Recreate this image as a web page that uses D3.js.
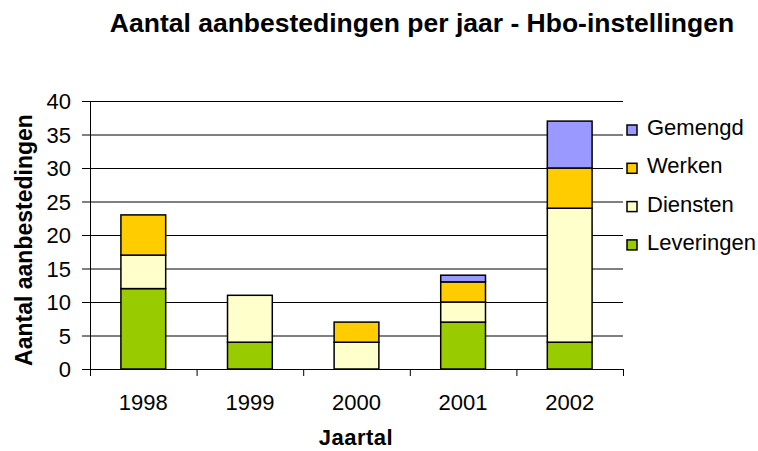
<!DOCTYPE html>
<html>
<head>
<meta charset="utf-8">
<script src="https://cdn.jsdelivr.net/npm/d3@7"></script>
<style>
  body { margin: 0; background: #fff; }
  text { font-family: "Liberation Sans", Arial, sans-serif; fill: #000; }
</style>
</head>
<body>
<div id="chart"></div>
<script>
var svgWidth = 758, svgHeight = 451;

var years = ["1998", "1999", "2000", "2001", "2002"];
var series = ["Leveringen", "Diensten", "Werken", "Gemengd"];
var leveringen = [12, 4, 0, 7, 4];
var diensten = [5, 7, 4, 3, 20];
var werken = [6, 0, 3, 3, 6];
var gemengd = [0, 0, 0, 1, 7];
var colors = ["#99cc00", "#ffffcc", "#ffcc00", "#9999ff"];
var yTicks = [0, 5, 10, 15, 20, 25, 30, 35, 40];

// build rows for d3.stack
var rows = years.map(function(y, i) {
  return { year: y, Leveringen: leveringen[i], Diensten: diensten[i], Werken: werken[i], Gemengd: gemengd[i] };
});

var margin = { left: 90, right: 135, top: 101, bottom: 82 };
var plotW = svgWidth - margin.left - margin.right;
var plotH = svgHeight - margin.top - margin.bottom;

var svg = d3.select("#chart")
  .append("svg")
  .attr("width", svgWidth)
  .attr("height", svgHeight);

var x = d3.scaleBand().domain(years).range([0, plotW]).paddingInner(0.58).paddingOuter(0.29);
var y = d3.scaleLinear().domain([0, 40]).range([plotH, 0]);

var g = svg.append("g").attr("transform", "translate(" + margin.left + "," + margin.top + ")");

// gridlines
g.append("g")
  .selectAll("line")
  .data(yTicks.filter(d => d > 0))
  .enter()
  .append("line")
  .attr("x1", 0).attr("x2", plotW)
  .attr("y1", d => y(d) + 0.5).attr("y2", d => y(d) + 0.5)
  .attr("stroke", "#000").attr("stroke-width", 1);

var stacked = d3.stack().keys(series)(rows);

g.append("g")
  .selectAll("g")
  .data(stacked)
  .enter()
  .append("g")
  .attr("fill", (d, i) => colors[i])
  .selectAll("rect")
  .data(d => d.filter(p => p[1] - p[0] > 0))
  .enter()
  .append("rect")
  .attr("x", d => x(d.data.year))
  .attr("y", d => y(d[1]))
  .attr("width", x.bandwidth())
  .attr("height", d => y(d[0]) - y(d[1]))
  .attr("stroke", "#000")
  .attr("stroke-width", 1.5);

// y axis
var yAxis = g.append("g")
  .call(d3.axisLeft(y).tickValues(yTicks).tickSize(8).tickPadding(11));
yAxis.select(".domain").attr("stroke", "#000").attr("d", "M0.5," + plotH + "V0");
yAxis.selectAll("text").style("font-size", "22px").attr("dy", "0.36em");

// x axis
var xAxis = g.append("g")
  .attr("transform", "translate(0," + plotH + ")");
xAxis.append("line")
  .attr("x1", 0).attr("x2", plotW).attr("y1", 0.5).attr("y2", 0.5)
  .attr("stroke", "#000");
xAxis.selectAll(".tk")
  .data(d3.range(years.length + 1))
  .enter()
  .append("line")
  .attr("x1", i => i * plotW / years.length + 0.5)
  .attr("x2", i => i * plotW / years.length + 0.5)
  .attr("y1", 0).attr("y2", 7)
  .attr("stroke", "#000");
xAxis.selectAll(".lbl")
  .data(years)
  .enter()
  .append("text")
  .attr("x", d => x(d) + x.bandwidth() / 2)
  .attr("y", 410 - margin.top - plotH)
  .attr("text-anchor", "middle")
  .style("font-size", "22px")
  .text(d => d);

// titles
svg.append("text")
  .attr("x", 422).attr("y", 32)
  .attr("text-anchor", "middle")
  .style("font-size", "26.5px").style("font-weight", "bold")
  .text("Aantal aanbestedingen per jaar - Hbo-instellingen");

svg.append("text")
  .attr("x", 356).attr("y", 445)
  .attr("text-anchor", "middle")
  .style("font-size", "22px").style("font-weight", "bold")
  .style("letter-spacing", "0.5px")
  .text("Jaartal");

svg.append("text")
  .attr("transform", "translate(32,240) rotate(-90)")
  .attr("text-anchor", "middle")
  .style("font-size", "23px").style("font-weight", "bold")
  .text("Aantal aanbestedingen");

// legend
var legendOrder = series.slice().reverse();
var legend = svg.append("g").attr("transform", "translate(627,125)");
var items = legend.selectAll("g")
  .data(legendOrder)
  .enter()
  .append("g")
  .attr("transform", (d, i) => "translate(0," + i * 38.3 + ")");
items.append("rect")
  .attr("width", 10).attr("height", 10)
  .attr("fill", d => colors[series.indexOf(d)])
  .attr("stroke", "#000").attr("stroke-width", 1.5);
items.append("text")
  .attr("x", 20).attr("y", 10)
  .style("font-size", "22px")
  .text(d => d);
</script>
</body>
</html>
